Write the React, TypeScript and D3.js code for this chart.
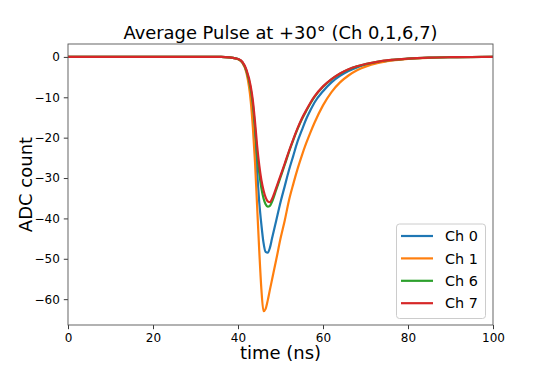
import React, { useRef, useEffect } from 'react';
import * as d3 from 'd3';

// sample times (ns) and channel averages
const times = [0, 36, 38, 40, 41, 42, 43, 43.5, 44, 44.5, 45, 45.5, 46, 46.5, 47, 47.5, 48, 49, 50, 51, 52, 53, 54, 55, 56, 57, 58, 60, 62, 64, 66, 68, 70, 73, 76, 80, 85, 90, 95, 100];

const ch0 = [0, 0, -0.1, -0.5, -1.3, -3.6, -8.5, -12.5, -19.0, -28.5, -36.0, -41.5, -46.0, -48.3, -48.5, -47.3, -45.0, -40.5, -36.0, -32.0, -28.0, -24.5, -21.0, -18.2, -15.5, -13.3, -11.3, -8.5, -6.3, -4.7, -3.5, -2.6, -1.95, -1.3, -0.85, -0.45, -0.2, -0.08, -0.03, 0];
const ch1 = [0, 0, -0.1, -0.6, -1.4, -4.0, -11.0, -17.5, -26.0, -37.0, -48.0, -57.5, -63.0, -62.4, -60.3, -57.7, -55.2, -50.2, -45.0, -40.5, -35.5, -31.5, -27.8, -24.5, -21.5, -18.8, -16.3, -12.0, -8.7, -6.3, -4.6, -3.3, -2.4, -1.5, -0.95, -0.5, -0.22, -0.08, -0.03, 0];
const ch6 = [0, 0, -0.1, -0.5, -1.3, -3.5, -8.0, -11.8, -17.5, -24.0, -28.8, -32.5, -35.0, -36.5, -37.1, -36.9, -35.9, -32.9, -29.8, -26.7, -23.5, -20.6, -17.9, -15.5, -13.5, -11.6, -9.9, -7.4, -5.55, -4.15, -3.1, -2.35, -1.8, -1.15, -0.75, -0.4, -0.17, -0.07, -0.02, 0];
const ch7 = [0, 0, -0.1, -0.5, -1.2, -3.2, -7.3, -10.8, -16.0, -22.0, -26.8, -30.5, -33.0, -34.8, -35.8, -36.0, -35.2, -32.4, -29.4, -26.4, -23.3, -20.4, -17.7, -15.3, -13.3, -11.4, -9.8, -7.3, -5.5, -4.1, -3.05, -2.3, -1.75, -1.15, -0.75, -0.4, -0.17, -0.07, -0.02, 0];

const seriesNames = ['Ch 0', 'Ch 1', 'Ch 6', 'Ch 7'];
const seriesValues = [ch0, ch1, ch6, ch7];
const colors = ['#1f77b4', '#ff7f0e', '#2ca02c', '#d62728'];

const xTicks = [0, 20, 40, 60, 80, 100];
const yTicks = [0, -10, -20, -30, -40, -50, -60];

export default function App() {
  const ref = useRef<SVGSVGElement>(null);

  useEffect(() => {
    document.body.style.margin = '0';
    const width = 548;
    const height = 366;
    const m = { left: 68, right: 493, top: 44, bottom: 325 };
    const font = 'DejaVu Sans, sans-serif';

    const svg = d3.select(ref.current);
    svg.selectAll('*').remove();

    const x = d3.scaleLinear().domain([0, 100]).range([m.left, m.right]);
    const y = d3.scaleLinear().domain([-66.4, 3.2]).range([m.bottom, m.top]);

    svg.append('rect').attr('width', width).attr('height', height).attr('fill', '#fff');

    // Lines //
    const line = d3.line<number>()
      .x((_, i) => x(times[i]))
      .y(d => y(d))
      .curve(d3.curveMonotoneX);

    seriesValues.forEach((vals, i) => {
      svg.append('path')
        .attr('d', line(vals))
        .attr('fill', 'none')
        .attr('stroke', colors[i])
        .attr('stroke-width', 2.2)
        .attr('stroke-linejoin', 'round');
    });

    // Axis //
    const xAxis = d3.axisBottom(x).tickValues(xTicks).tickSizeOuter(0).tickSize(4.2).tickPadding(4);
    const yAxis = d3.axisLeft(y).tickValues(yTicks).tickSizeOuter(0).tickSize(4.2).tickPadding(4)
      .tickFormat(d => (+d < 0 ? '\u2212' + Math.abs(+d) : String(d)));

    const gx = svg.append('g').attr('transform', `translate(0, ${m.bottom})`).call(xAxis);
    const gy = svg.append('g').attr('transform', `translate(${m.left}, 0)`).call(yAxis);
    [gx, gy].forEach(g => {
      g.select('.domain').remove();
      g.selectAll('line').attr('stroke', '#222').attr('stroke-width', 0.9);
      g.selectAll('text').attr('font-family', font).attr('font-size', 12).attr('fill', '#000');
    });

    // spines
    svg.append('rect')
      .attr('x', m.left).attr('y', m.top)
      .attr('width', m.right - m.left).attr('height', m.bottom - m.top)
      .attr('fill', 'none').attr('stroke', '#555').attr('stroke-width', 0.9);

    // Labels //
    svg.append('text')
      .attr('x', (m.left + m.right) / 2).attr('y', 39)
      .attr('text-anchor', 'middle').attr('font-family', font).attr('font-size', 17.9)
      .text('Average Pulse at +30\u00b0 (Ch 0,1,6,7)');

    svg.append('text')
      .attr('x', (m.left + m.right) / 2).attr('y', 359)
      .attr('text-anchor', 'middle').attr('font-family', font).attr('font-size', 18)
      .text('time (ns)');

    svg.append('text')
      .attr('transform', `translate(32, ${(m.top + m.bottom) / 2}) rotate(-90)`)
      .attr('text-anchor', 'middle').attr('font-family', font).attr('font-size', 18)
      .text('ADC count');

    // Legend //
    const lg = svg.append('g');
    lg.append('rect')
      .attr('x', 396.5).attr('y', 224).attr('width', 89).attr('height', 94.5)
      .attr('rx', 3).attr('fill', '#fff').attr('fill-opacity', 0.8)
      .attr('stroke', '#cccccc').attr('stroke-width', 1);
    seriesNames.forEach((name, i) => {
      const ly = 236 + i * 22.4;
      lg.append('line')
        .attr('x1', 401).attr('x2', 433).attr('y1', ly).attr('y2', ly)
        .attr('stroke', colors[i]).attr('stroke-width', 2.2);
      lg.append('text')
        .attr('x', 445).attr('y', ly + 5.2)
        .attr('font-family', font).attr('font-size', 14.4)
        .text(name);
    });
  }, []);

  return <svg ref={ref} width={548} height={366} style={{ display: 'block' }} />;
}
